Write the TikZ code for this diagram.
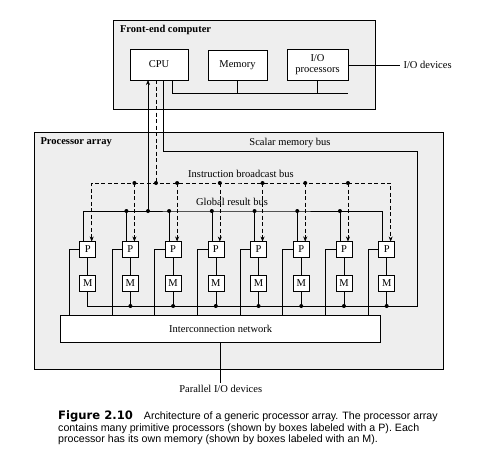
\documentclass[tikz,border=0pt]{standalone}
\usepackage{fontspec}
\setmainfont{Liberation Serif}
\newfontfamily\capfont{Liberation Sans}
\newfontfamily\capbold{DejaVu Sans}
\usetikzlibrary{arrows.meta}
\begin{document}
\begin{tikzpicture}[x=1pt,y=-1pt,
  every node/.style={font=\fontsize{10.5}{12}\selectfont},
  lbl/.style={font=\bfseries\fontsize{10.5}{12}\selectfont},
  bigbox/.style={draw, line width=0.8pt, fill=gray!13, inner sep=0pt, outer sep=0pt},
  unit/.style={draw, line width=0.6pt, fill=white, inner sep=0pt, outer sep=0pt, align=center},
  pm/.style={unit, minimum width=16pt, minimum height=16pt},
  wire/.style={line width=0.6pt},
  ibus/.style={wire, dash pattern=on 4pt off 2.5pt},
  tip/.style={-{Stealth[length=5pt,width=4pt]}},
  tips/.style={{Stealth[length=5pt,width=4pt]}-{Stealth[length=5pt,width=4pt]}}
]
\fill[white] (0,0) rectangle (496,472);
\useasboundingbox (0,0) rectangle (496,472);

% big boxes
\node[bigbox, minimum width=409pt, minimum height=237pt] (pa) at (238.5,250.5) {};
\node[bigbox, minimum width=262pt, minimum height=89pt] (fe) at (244,64.5) {};

% front-end units
\node[unit, minimum width=58pt, minimum height=31pt] (cpu) at (159,64.5) {CPU};
\node[unit, minimum width=59pt, minimum height=30pt] (mem) at (237.5,65) {Memory};
\node[unit, minimum width=61pt, minimum height=31pt, font=\fontsize{10.5}{11}\selectfont] (iop) at (317.5,65) {I/O\\processors};

\node[anchor=west, lbl] (fel) at (116.5,30) {Front-end computer};
\node[anchor=west, lbl] (pal) at (37,142) {Processor array};
\node (smb) at (290,143) {Scalar memory bus};
\node (ibl) at (241,174) {Instruction broadcast bus};
\node (gbl) at (232,202) {Global result bus};

% processors and memories
\foreach \i in {1,...,8} {
  \pgfmathsetmacro\xx{87.7+42.71*(\i-1)}
  \node[pm] (p\i) at (\xx,249.5) {P};
  \node[pm] (m\i) at (\xx,283) {M};
}

\node[unit, minimum width=320pt, minimum height=27pt] (net) at (220.7,328.5) {Interconnection network};
\node[anchor=north, inner sep=2pt] (pio) at (220.7,383) {Parallel I/O devices};

% coordinates
\coordinate (ib) at (240,183);
\coordinate (gb) at (240,211);
\coordinate (sb) at (417,151);
\coordinate (sbb) at (417,306);
\coordinate (feb) at (348,93);

% front-end bus
\draw[wire] ([xshift=13pt]cpu.south) |- (feb);
\draw[wire] (mem.south) -- (mem.south |- feb);
\draw[wire] (iop.south) -- (iop.south |- feb);
\draw[wire] (iop.east) -- (400,65) coordinate (iod);
\node[anchor=west] (iodl) at (iod) {I/O devices};

% CPU connections
\coordinate (ca) at ([xshift=-11pt]cpu.south);
\coordinate (cd) at ([xshift=-3pt]cpu.south);
\coordinate (cs) at ([xshift=4pt]cpu.south);
\draw[wire, tip] (ca |- gb) -- (ca);
\fill (ca |- gb) circle[radius=2pt];
\draw[ibus] (cd) -- (cd |- ib);
\fill (cd |- ib) circle[radius=2pt];
\draw[wire] (cs) |- (sb) -- (sbb) -| (m1.south);

% instruction broadcast bus
\draw[ibus, tips] ([xshift=4pt]p1.north) |- (ib) -| ([xshift=4pt]p8.north);
% global result bus
\draw[wire] ([xshift=-4pt]p1.north) |- (gb) -| ([xshift=-4pt]p8.north);

\foreach \i in {2,...,7} {
  \coordinate (it\i) at ([xshift=4pt]p\i.north);
  \draw[ibus, tip] (it\i |- ib) -- (it\i);
  \fill (it\i |- ib) circle[radius=2pt];
  \coordinate (gt\i) at ([xshift=-4pt]p\i.north);
  \draw[wire] (gt\i |- gb) -- (gt\i);
  \fill (gt\i |- gb) circle[radius=2pt];
}
\foreach \i in {2,...,8} {
  \draw[wire] (m\i.south) -- (m\i.south |- sbb);
  \fill (m\i.south |- sbb) circle[radius=2pt];
}
\foreach \i in {1,...,8} {
  \draw[wire] (p\i.south) -- (m\i.north);
  \coordinate (nl\i) at ([xshift=-18.5pt]p\i.center);
  \draw[wire] (p\i.west) -| (nl\i |- net.north);
}
\draw[wire] (net.south) -- (pio.north);

% caption
\node[anchor=north west, align=left, inner sep=0pt, font=\capfont\fontsize{10.65}{11.7}\selectfont] (cap) at (58,410.5)
{{\capbold\bfseries\fontsize{11.6}{11.7}\selectfont Figure 2.10}\hspace{11pt}Architecture of a generic processor array. The processor array\\
contains many primitive processors (shown by boxes labeled with a P). Each\\
processor has its own memory (shown by boxes labeled with an M).};
\end{tikzpicture}
\end{document}
